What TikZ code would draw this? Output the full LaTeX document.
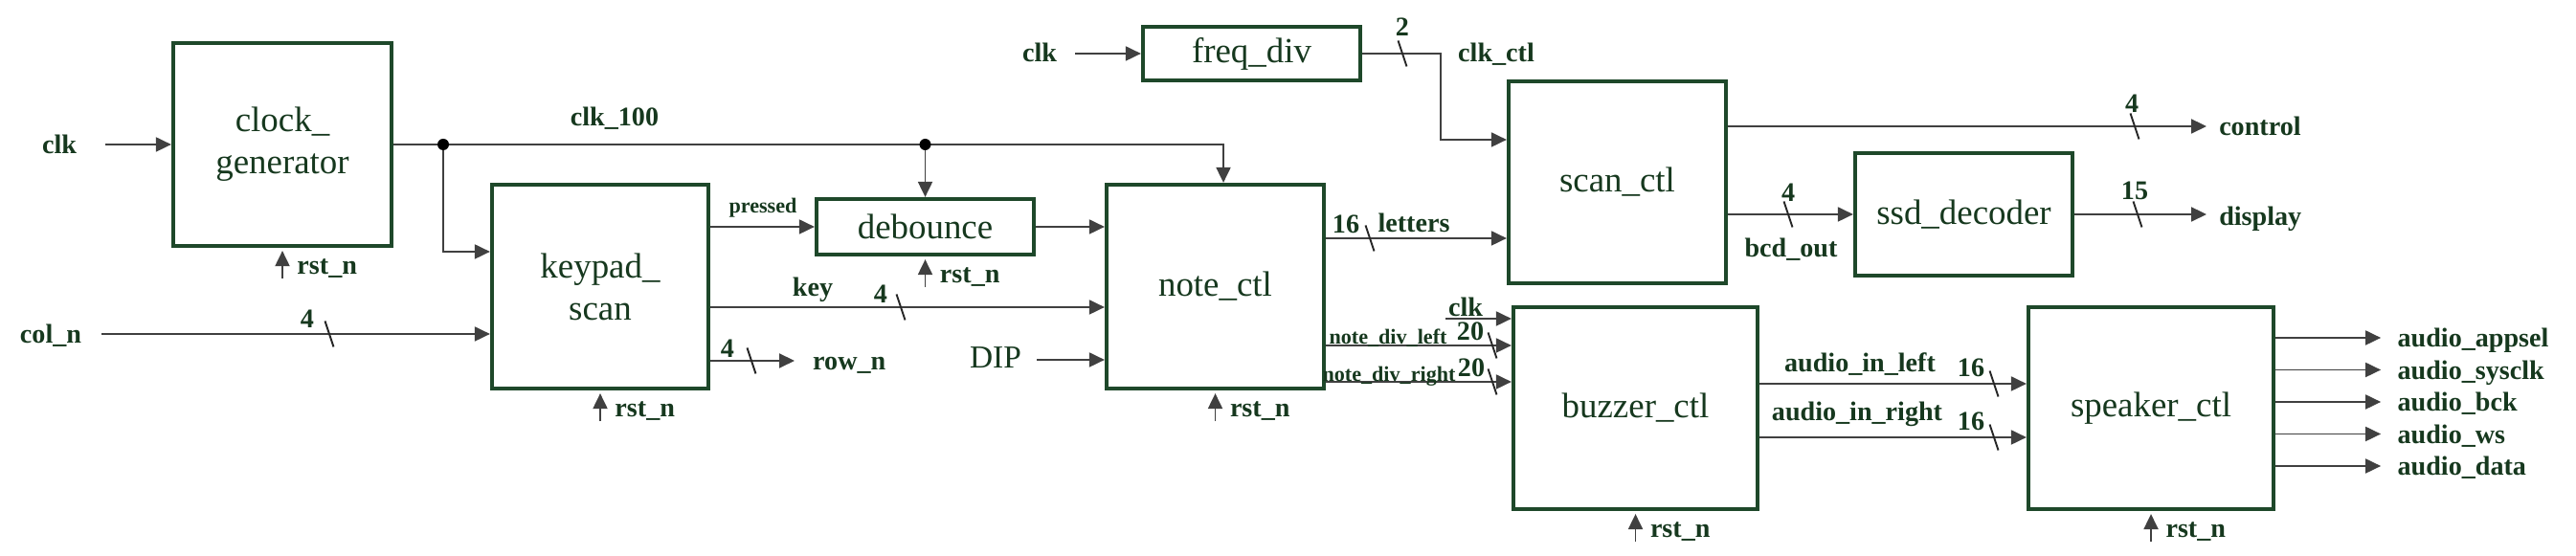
\documentclass[tikz,border=0pt]{standalone}
\usepackage{fontspec}
\setmainfont{Liberation Serif}
\usetikzlibrary{arrows.meta}

\definecolor{boxgreen}{RGB}{30,72,42}
\definecolor{txtgreen}{RGB}{22,56,30}

\tikzset{
  block/.style={draw=boxgreen, line width=1.2pt, text=txtgreen, inner sep=0pt,
    align=center, font=\fontsize{10.5}{12.5}\selectfont},
  sig/.style={text=txtgreen, inner sep=1pt, text height=1.6ex, text depth=0.4ex,
    font=\fontsize{8}{9.5}\selectfont\bfseries},
  smallsig/.style={sig, font=\fontsize{6.3}{7.5}\selectfont\bfseries},
  wire/.style={draw=black!75, line width=0.55pt},
  busslash/.pic={\draw[black!85, line width=0.55pt] (-0.045,0.135) -- (0.045,-0.135);}
}

\begin{document}
\begin{tikzpicture}[>={Triangle[length=1.6mm,width=1.5mm]}]
\useasboundingbox (0,0) rectangle (26.91,5.81);

\node[block, minimum width=2.28cm, minimum height=2.12cm] (clockgen) at (2.95,4.30) {clock\_\\generator};
\node[block, minimum width=2.26cm, minimum height=2.13cm] (keypad) at (6.27,2.815) {keypad\_\\scan};
\node[block, minimum width=2.27cm, minimum height=0.58cm] (debounce) at (9.665,3.44) {debounce};
\node[block, minimum width=2.27cm, minimum height=0.56cm] (freqdiv) at (13.075,5.25) {freq\_div};
\node[block, minimum width=2.27cm, minimum height=2.13cm] (notectl) at (12.695,2.815) {note\_ctl};
\node[block, minimum width=2.27cm, minimum height=2.11cm] (scanctl) at (16.895,3.905) {scan\_ctl};
\node[block, minimum width=2.27cm, minimum height=1.28cm] (ssd) at (20.515,3.57) {ssd\_decoder};
\node[block, minimum width=2.55cm, minimum height=2.11cm] (buzzer) at (17.085,1.545) {buzzer\_ctl};
\node[block, minimum width=2.56cm, minimum height=2.11cm] (speaker) at (22.47,1.545) {speaker\_ctl};

% ports
\coordinate (clkin) at (1.10,4.30);
\coordinate (colin) at (1.06,2.32);
\coordinate (split1) at (4.63,4.30);
\coordinate (split2) at (debounce.north |- clockgen.east);
\coordinate (kpclk) at ([yshift=3.65mm]keypad.west);
\coordinate (keyout) at ([yshift=-2.15mm]keypad.east);
\coordinate (rowout) at ([yshift=-7.75mm]keypad.east);
\coordinate (rowend) at (8.30,2.04);
\coordinate (dipsrc) at (10.83,2.05);
\coordinate (fclk) at (11.23,5.25);
\coordinate (ctlin) at ([yshift=4.45mm]scanctl.west);
\coordinate (lettout) at ([yshift=5.05mm]notectl.east);
\coordinate (ndlout) at ([yshift=-6.15mm]notectl.east);
\coordinate (ndrout) at ([yshift=-9.95mm]notectl.east);
\coordinate (bclksrc) at (15.10,2.48);
\coordinate (bzclk) at ([yshift=9.35mm]buzzer.west);
\coordinate (ctrlout) at ([yshift=5.85mm]scanctl.east);
\coordinate (ctrlend) at (23.05,4.49);
\coordinate (dispend) at (23.05,3.57);
\coordinate (ailout) at ([yshift=2.55mm]buzzer.east);
\coordinate (airout) at ([yshift=-3.05mm]buzzer.east);

% clocks
\draw[wire,->] (clkin) -- (clockgen.west);
\node[sig] (clklbl) at (0.62,4.30) {clk};
\draw[wire,->] (clockgen.east) -| ([xshift=0.85mm]notectl.north);
\draw[wire,->] (split1) |- (kpclk);
\draw[wire,->] (split2) -- (debounce.north);
\fill (split1) circle (0.06);
\fill (split2) circle (0.06);
\node[sig] (clk100lbl) at (6.42,4.59) {clk\_100};

\draw[wire,->] (fclk) -- (freqdiv.west);
\node[sig] (fclklbl) at (10.86,5.26) {clk};
\draw[wire,->] (freqdiv.east) -- ++(0.82,0) |- (ctlin);
\pic at (14.65,5.25) {busslash};
\node[sig] (ctlw) at (14.65,5.53) {2};
\node[sig] (ctllbl) at (15.63,5.26) {clk\_ctl};

% keypad side
\draw[wire,->] (colin) -- (colin -| keypad.west);
\node[sig] (colnlbl) at (0.53,2.32) {col\_n};
\pic at (3.44,2.32) {busslash};
\node[sig] (colnw) at (3.21,2.48) {4};

\draw[wire,->] (keypad.east |- debounce.west) -- (debounce.west);
\node[smallsig] (presslbl) at (7.97,3.68) {pressed};
\draw[wire,->] (debounce.east) -- (debounce.east -| notectl.west);

\draw[wire,->] (keyout) -- (keyout -| notectl.west);
\node[sig] (keylbl) at (8.49,2.81) {key};
\pic at (9.41,2.60) {busslash};
\node[sig] (keyw) at (9.20,2.74) {4};

\draw[wire,->] (rowout) -- (rowend);
\pic at (7.85,2.04) {busslash};
\node[sig] (roww) at (7.60,2.17) {4};
\node[sig, anchor=west] (rowlbl) at (8.45,2.04) {row\_n};

\draw[wire,->] (dipsrc) -- (dipsrc -| notectl.west);
\node[text=txtgreen, font=\fontsize{9.5}{11}\selectfont] (diplbl) at (10.40,2.07) {DIP};

% note_ctl outputs
\draw[wire,->] (lettout) -- (lettout -| scanctl.west);
\pic at (14.31,3.32) {busslash};
\node[sig] (lettw) at (14.06,3.47) {16};
\node[sig] (lettlbl) at (14.77,3.48) {letters};

\draw[wire,->] (bclksrc) -- (bzclk);
\node[sig] (bclklbl) at (15.31,2.60) {clk};
\draw[wire,->] (ndlout) -- (ndlout -| buzzer.west);
\node[smallsig] (ndllbl) at (14.50,2.31) {note\_div\_left};
\pic at (15.59,2.20) {busslash};
\node[sig] (ndlw) at (15.36,2.35) {20};
\draw[wire,->] (ndrout) -- (ndrout -| buzzer.west);
\node[smallsig] (ndrlbl) at (14.51,1.92) {note\_div\_right};
\pic at (15.59,1.82) {busslash};
\node[sig] (ndrw) at (15.37,1.97) {20};

% scan_ctl outputs
\draw[wire,->] (ctrlout) -- (ctrlend);
\pic at (22.30,4.49) {busslash};
\node[sig] (ctrlw) at (22.27,4.73) {4};
\node[sig, anchor=west] (ctrllbl) at (23.14,4.49) {control};

\draw[wire,->] (scanctl.east |- ssd.west) -- (ssd.west);
\pic at (18.68,3.57) {busslash};
\node[sig] (bcdw) at (18.68,3.80) {4};
\node[sig] (bcdlbl) at (18.71,3.22) {bcd\_out};

\draw[wire,->] (ssd.east) -- (dispend);
\pic at (22.33,3.57) {busslash};
\node[sig] (dispw) at (22.30,3.82) {15};
\node[sig, anchor=west] (displbl) at (23.14,3.55) {display};

% buzzer to speaker
\draw[wire,->] (ailout) -- (ailout -| speaker.west);
\node[sig] (aillbl) at (19.43,2.02) {audio\_in\_left};
\pic at (20.83,1.80) {busslash};
\node[sig] (ailw) at (20.59,1.97) {16};
\draw[wire,->] (airout) -- (airout -| speaker.west);
\node[sig] (airlbl) at (19.40,1.51) {audio\_in\_right};
\pic at (20.83,1.24) {busslash};
\node[sig] (airw) at (20.59,1.41) {16};

\foreach \lbl [count=\i from 0] in {audio\_appsel,audio\_sysclk,audio\_bck,audio\_ws,audio\_data}
  \draw[wire,->] ([yshift=0.735cm-\i*0.335cm]speaker.east) -- ++(1.10,0)
    node[sig, anchor=west, xshift=1.3mm] (aout\i) {\lbl};

% resets
\foreach \b in {clockgen,keypad,debounce,notectl,buzzer,speaker}
  \draw[wire,->] ([yshift=-3.2mm]\b.south) -- node[sig, right, xshift=1.1mm] (rst\b) {rst\_n} ([yshift=-0.3mm]\b.south);
\end{tikzpicture}
\end{document}
